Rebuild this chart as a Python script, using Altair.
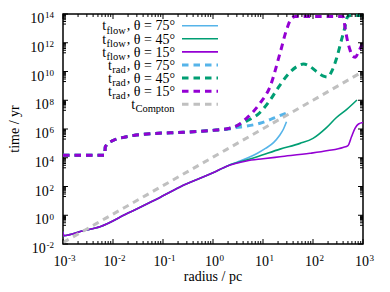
import altair as alt
import pandas as pd

# ---------------- data (log10 of radius/pc and of time/yr) ----------------
flow75_logr = [-3.0, -2.99, -2.6, -2.26, -1.7, -1.16, -0.66, 0.0, 0.3, 0.5, 0.7, 0.88, 1.05, 1.21, 1.33, 1.41, 1.47]
flow75_logt = [-1.15, -1.42, -1.08, -0.8, 0.15, 1.06, 1.97, 2.95, 3.45, 3.72, 4.0, 4.3, 4.65, 5.05, 5.55, 6.0, 6.5]

flow45_logr = [-3.0, -2.99, -2.6, -2.26, -1.7, -1.16, -0.66, 0.0, 0.3, 0.47, 0.87, 1.34, 1.74, 2.0, 2.27, 2.47, 2.67, 2.88]
flow45_logt = [-1.15, -1.42, -1.08, -0.8, 0.15, 1.06, 1.97, 2.95, 3.45, 3.65, 4.05, 4.6, 5.0, 5.35, 6.1, 6.8, 7.35, 8.02]

flow15_logr = [-3.0, -2.99, -2.6, -2.26, -1.7, -1.16, -0.66, 0.0, 0.3, 0.47, 0.67, 1.0, 1.34, 1.94, 2.3, 2.6, 2.7, 2.77, 2.84, 2.91, 3.0]
flow15_logt = [-1.15, -1.42, -1.08, -0.8, 0.15, 1.06, 1.97, 2.95, 3.45, 3.62, 3.78, 3.93, 4.07, 4.31, 4.5, 4.72, 4.85, 5.46, 6.05, 6.35, 6.45]

rad75_logr = [-3.0, -2.165, -2.155, -2.13, -2.0, -1.79, -1.59, -1.2, -0.6, 0.07, 0.31, 0.47, 0.67, 0.94, 1.21, 1.46]
rad75_logt = [4.17, 4.17, 4.75, 4.88, 5.2, 5.42, 5.55, 5.68, 5.77, 5.93, 6.0, 6.1, 6.2, 6.4, 6.75, 7.1]

rad45_logr = [-3.0, -2.165, -2.155, -2.13, -2.0, -1.79, -1.59, -1.2, -0.6, 0.07, 0.31, 0.47, 0.67, 0.94, 1.14, 1.34,
              1.54, 1.67, 1.81, 1.94, 2.07, 2.21, 2.29, 2.38, 2.47, 2.57, 2.64, 2.69, 2.75, 3.0]
rad45_logt = [4.17, 4.17, 4.75, 4.88, 5.2, 5.42, 5.55, 5.68, 5.77, 5.93, 6.03, 6.22, 6.55, 7.15, 8.0, 9.06,
              9.95, 10.33, 10.52, 10.35, 10.0, 9.68, 9.62, 10.05, 10.9, 12.2, 13.1, 13.8, 13.9, 13.9]

rad15_logr = [-3.0, -2.165, -2.155, -2.13, -2.0, -1.79, -1.59, -1.2, -0.6, 0.07, 0.31, 0.47, 0.67, 0.94, 1.14, 1.34,
              1.47, 1.57, 1.65, 2.6, 2.64, 2.68, 2.74, 2.8, 2.85, 2.91, 3.0]
rad15_logt = [4.17, 4.17, 4.75, 4.88, 5.2, 5.42, 5.55, 5.68, 5.77, 5.93, 6.03, 6.21, 6.74, 7.79, 8.94, 11.27,
              12.89, 13.7, 13.82, 13.82, 13.1, 12.3, 11.5, 11.05, 11.0, 11.38, 12.0]

compton_logr = [-3.0, -2.0, -1.0, 0.0, 1.0, 2.0, 3.0]
compton_logt = [-1.9, 0.08, 2.06, 4.04, 6.02, 8.0, 10.0]

series = [
    ("flow", ", θ = 75°", flow75_logr, flow75_logt, "#56b4e9", False),
    ("flow", ", θ = 45°", flow45_logr, flow45_logt, "#009e73", False),
    ("flow", ", θ = 15°", flow15_logr, flow15_logt, "#9400d3", False),
    ("rad", ", θ = 75°", rad75_logr, rad75_logt, "#56b4e9", True),
    ("rad", ", θ = 45°", rad45_logr, rad45_logt, "#009e73", True),
    ("rad", ", θ = 15°", rad15_logr, rad15_logt, "#9400d3", True),
    ("Compton", "", compton_logr, compton_logt, "#c0c0c0", True),
]

x_decades = [-3, -2, -1, 0, 1, 2, 3]
y_decades = [-2, 0, 2, 4, 6, 8, 10, 12, 14]

# ---------------- layout ----------------
W, H = 300, 230
FONT = "Liberation Serif"
FS, FS_SUB = 14, 10.5
FS_EXP = 9
SOLID_W, DASH_W, DASH = 1.6, 3.0, [6.5, 5]

XS = alt.Scale(type="log", domain=[1e-3, 1e3], nice=False)
YS = alt.Scale(type="log", domain=[1e-2, 1e14], nice=False)

EM = {",": 0.25, " ": 0.25, "θ": 0.52, "=": 0.564, "°": 0.4, "f": 0.333, "l": 0.278, "o": 0.5,
      "w": 0.722, "r": 0.333, "a": 0.444, "d": 0.5, "C": 0.667, "m": 0.778, "p": 0.5, "t": 0.278,
      "n": 0.5, "-": 0.333}


def tw(s, size):
    return size * sum(EM.get(c, 0.5) for c in s)


dummy = pd.DataFrame({"a": [0]})
layers = []

# curves
for sub, tail, lr, lt, col, dashed in series:
    df = pd.DataFrame({"r": [10 ** v for v in lr], "t": [10 ** v for v in lt], "i": range(len(lr))})
    kw = dict(color=col, strokeWidth=DASH_W if dashed else SOLID_W, interpolate="monotone", clip=True)
    if dashed:
        kw["strokeDash"] = DASH
    layers.append(
        alt.Chart(df).mark_line(**kw).encode(
            x=alt.X("r:Q", scale=XS, axis=None),
            y=alt.Y("t:Q", scale=YS, axis=None),
            order="i:Q",
        )
    )

# ticks (inward, mirrored)
x_major = [10.0 ** d for d in x_decades]
x_minor = [k * 10.0 ** d for d in x_decades[:-1] for k in range(2, 10)]
y_major = [10.0 ** d for d in y_decades]
y_minor = [k * 10.0 ** (d - 1) for d in y_decades[1:] for k in range(2, 10)]

for vals, ln in ((x_major, 5), (x_minor, 3)):
    d = pd.DataFrame({"v": vals})
    for y0, y1 in ((H, H - ln), (0, ln)):
        layers.append(alt.Chart(d).mark_rule(color="black", strokeWidth=1).encode(
            x=alt.X("v:Q", scale=XS, axis=None), y=alt.value(y0), y2=alt.value(y1)))
for vals, ln in ((y_major, 5), (y_minor, 3)):
    d = pd.DataFrame({"v": vals})
    for x0, x1 in ((0, ln), (W, W - ln)):
        layers.append(alt.Chart(d).mark_rule(color="black", strokeWidth=1).encode(
            y=alt.Y("v:Q", scale=YS, axis=None), x=alt.value(x0), x2=alt.value(x1)))

# x tick labels: "10" + superscript exponent, centred on tick
groups = {}
for d in x_decades:
    e = str(d)
    ew = tw(e, FS_EXP)
    total = tw("10", FS) + 0.7 + ew
    left = round(1.5 - total / 2, 1)
    groups.setdefault(left, []).append((10.0 ** d, e))
for left, items in groups.items():
    df = pd.DataFrame({"v": [a for a, _ in items], "e": [b for _, b in items], "b": ["10"] * len(items)})
    layers.append(alt.Chart(df).mark_text(align="left", baseline="alphabetic", font=FONT, fontSize=FS,
                                          dx=left, color="black").encode(
        x=alt.X("v:Q", scale=XS, axis=None), y=alt.value(252), text="b:N"))
    layers.append(alt.Chart(df).mark_text(align="left", baseline="alphabetic", font=FONT, fontSize=FS_EXP,
                                          dx=left + tw("10", FS) + 0.7, color="black").encode(
        x=alt.X("v:Q", scale=XS, axis=None), y=alt.value(246.5), text="e:N"))

# y tick labels: right aligned
groups = {}
for d in y_decades:
    e = str(d)
    off = round(-9 - tw(e, FS_EXP) - 0.7, 1)
    groups.setdefault(off, []).append((10.0 ** d, e))
for off, items in groups.items():
    df = pd.DataFrame({"v": [a for a, _ in items], "e": [b for _, b in items], "b": ["10"] * len(items)})
    layers.append(alt.Chart(df).mark_text(align="right", baseline="alphabetic", font=FONT, fontSize=FS,
                                          dy=9, color="black").encode(
        y=alt.Y("v:Q", scale=YS, axis=None), x=alt.value(off), text="b:N"))
    layers.append(alt.Chart(df).mark_text(align="right", baseline="alphabetic", font=FONT, fontSize=FS_EXP,
                                          dy=4.3, color="black").encode(
        y=alt.Y("v:Q", scale=YS, axis=None), x=alt.value(-9), text="e:N"))

# axis titles
layers.append(alt.Chart(dummy).mark_text(font=FONT, fontSize=FS, align="center", baseline="alphabetic",
                                         color="black").encode(
    x=alt.value(150), y=alt.value(267), text=alt.value("radius / pc")))
layers.append(alt.Chart(dummy).mark_text(font=FONT, fontSize=FS, align="center", baseline="middle",
                                         angle=270, color="black").encode(
    x=alt.value(-48), y=alt.value(115), text=alt.value("time / yr")))

# legend (gnuplot style: right-aligned text, sample on the right)
RX = 112
for i, (sub, tail, lr, lt, col, dashed) in enumerate(series):
    ry = 11.7 + 13.1 * i
    x_tail = RX
    x_sub = RX - tw(tail, FS) - 0.5
    x_t = x_sub - tw(sub, FS_SUB) - 0.3
    if tail:
        layers.append(alt.Chart(dummy).mark_text(font=FONT, fontSize=FS, align="right", baseline="alphabetic",
                                                 color="black").encode(
            x=alt.value(x_tail), y=alt.value(ry + 4.7), text=alt.value(tail)))
    layers.append(alt.Chart(dummy).mark_text(font=FONT, fontSize=FS_SUB, align="right", baseline="alphabetic",
                                             color="black").encode(
        x=alt.value(x_sub), y=alt.value(ry + 8.0), text=alt.value(sub)))
    layers.append(alt.Chart(dummy).mark_text(font=FONT, fontSize=FS, align="right", baseline="alphabetic",
                                             color="black").encode(
        x=alt.value(x_t), y=alt.value(ry + 4.7), text=alt.value("t")))
    kw = dict(color=col, strokeWidth=DASH_W if dashed else SOLID_W)
    if dashed:
        kw["strokeDash"] = DASH
    layers.append(alt.Chart(dummy).mark_rule(**kw).encode(
        x=alt.value(119), x2=alt.value(155), y=alt.value(ry)))

chart = alt.layer(*layers).properties(
    width=W, height=H,
    padding={"left": 55, "top": 6, "right": 15, "bottom": 40},
    autosize=alt.AutoSizeParams(type="none"),
).configure_view(stroke="black", strokeWidth=1.5)

chart.save("out.html", embed_options={"renderer": "svg", "actions": False})
